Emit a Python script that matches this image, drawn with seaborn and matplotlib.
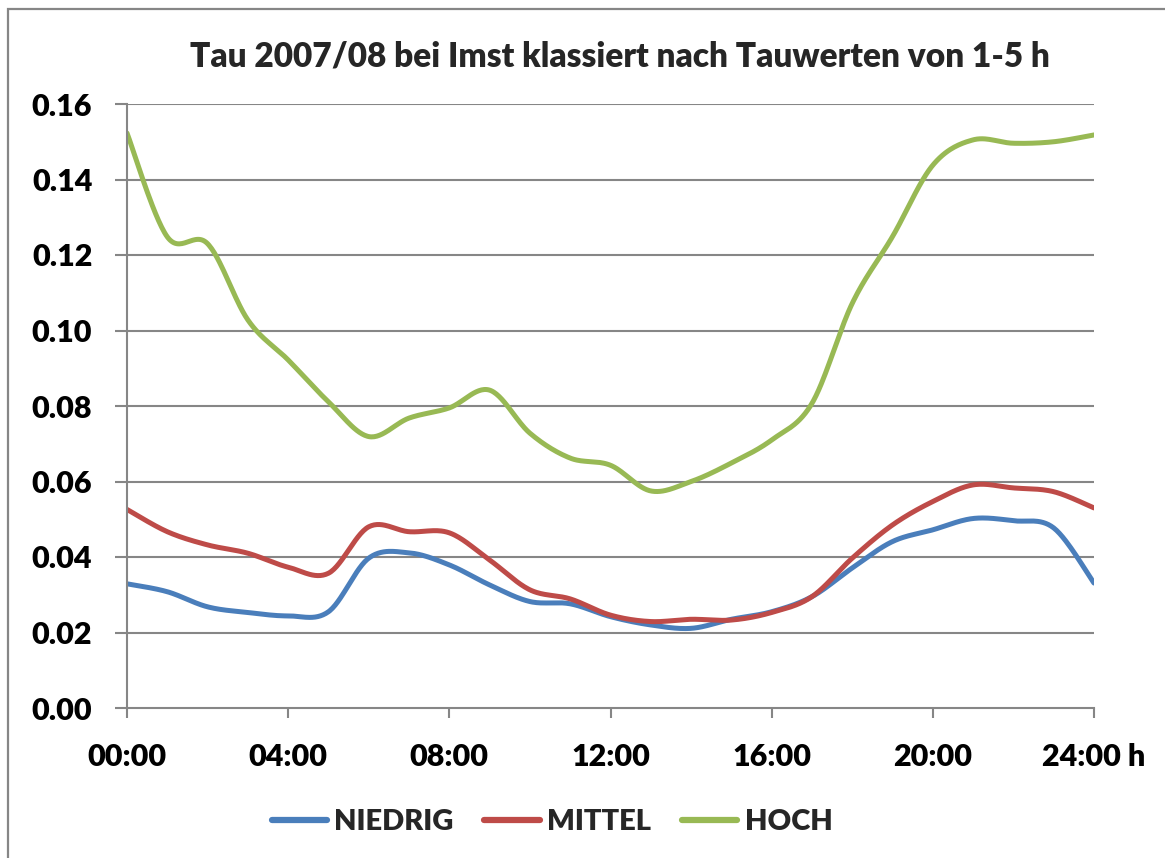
import numpy as np
import pandas as pd
import matplotlib
matplotlib.use("Agg")
import matplotlib.pyplot as plt
import seaborn as sns
from matplotlib.patches import Rectangle

hours = list(range(25))
niedrig = [0.0329, 0.0308, 0.0268, 0.0253, 0.0244, 0.0255, 0.0397, 0.0411, 0.0379, 0.0326,
           0.0282, 0.0276, 0.0242, 0.0220, 0.0211, 0.0235, 0.0255, 0.0295, 0.0371, 0.0441,
           0.0472, 0.0502, 0.0496, 0.0477, 0.0331]
mittel = [0.0526, 0.0467, 0.0432, 0.0410, 0.0373, 0.0357, 0.0480, 0.0467, 0.0464, 0.0392,
          0.0313, 0.0289, 0.0246, 0.0229, 0.0235, 0.0233, 0.0253, 0.0295, 0.0397, 0.0485,
          0.0547, 0.0591, 0.0583, 0.0573, 0.0530]
hoch = [0.1523, 0.1248, 0.1230, 0.1028, 0.0922, 0.0811, 0.0719, 0.0768, 0.0795, 0.0842,
        0.0728, 0.0662, 0.0643, 0.0575, 0.0600, 0.0649, 0.0710, 0.0807, 0.1072, 0.1249,
        0.1438, 0.1505, 0.1496, 0.1500, 0.1518]
series_names = ["NIEDRIG", "MITTEL", "HOCH"]
colors = ["#4A7EBB", "#BE4B48", "#98B954"]
x_ticks = [0, 4, 8, 12, 16, 20, 24]
x_tick_labels = ["00:00", "04:00", "08:00", "12:00", "16:00", "20:00", "24:00 h"]
y_ticks = [0.00, 0.02, 0.04, 0.06, 0.08, 0.10, 0.12, 0.14, 0.16]
title = "Tau 2007/08 bei Imst klassiert nach Tauwerten von 1-5 h"


def smooth(x, y, n=30):
    # Excel-like smoothed line: cubic Bezier through points (Catmull-Rom control points)
    x = np.asarray(x, float); y = np.asarray(y, float)
    P = np.column_stack([x, y])
    out = []
    for i in range(len(P) - 1):
        p0 = P[i - 1] if i > 0 else P[i]
        p1, p2 = P[i], P[i + 1]
        p3 = P[i + 2] if i + 2 < len(P) else P[i + 1]
        c1 = p1 + (p2 - p0) / 6.0
        c2 = p2 - (p3 - p1) / 6.0
        t = np.linspace(0, 1, n, endpoint=(i == len(P) - 2))[:, None]
        seg = ((1 - t) ** 3) * p1 + 3 * ((1 - t) ** 2) * t * c1 + 3 * (1 - t) * t ** 2 * c2 + t ** 3 * p2
        out.append(seg)
    return np.vstack(out)


frames = []
for name, vals in zip(series_names, [niedrig, mittel, hoch]):
    s = smooth(hours, vals)
    frames.append(pd.DataFrame({"h": s[:, 0], "v": s[:, 1], "series": name, "order": np.arange(len(s))}))
df = pd.concat(frames, ignore_index=True)

sns.set_theme(style="white")
plt.rcParams["font.family"] = ["Lato", "DejaVu Sans"]
plt.rcParams["font.weight"] = "bold"

W, H = 1165, 858
fig = plt.figure(figsize=(W / 100, H / 100), dpi=100)
ax = fig.add_axes([127 / W, 1 - 708 / H, (1094 - 127) / W, (708 - 104) / H])

grid_c = "#868686"
for yv in y_ticks[1:]:
    ax.axhline(yv, color=grid_c, lw=1.5, zorder=0)

sns.lineplot(data=df, x="h", y="v", hue="series", hue_order=series_names, palette=colors,
             sort=False, estimator=None, units="series", lw=3.6, ax=ax, legend=True)

ax.set_xlim(0, 24)
ax.set_ylim(0, 0.16)
ax.set_xticks(x_ticks)
ax.set_xticklabels(x_tick_labels)
ax.set_yticks(y_ticks)
ax.set_yticklabels([f"{v:.2f}" for v in y_ticks])
ax.set_xlabel("")
ax.set_ylabel("")
for side in ["top", "right"]:
    ax.spines[side].set_visible(False)
for side in ["left", "bottom"]:
    ax.spines[side].set_color(grid_c)
    ax.spines[side].set_linewidth(1.5)
ax.tick_params(axis="y", direction="out", length=9, width=1.5, color=grid_c, pad=16,
               labelsize=22, left=True)
ax.tick_params(axis="x", direction="out", length=7, width=1.5, color=grid_c, pad=18,
               labelsize=22, bottom=True)
for lab in ax.get_xticklabels() + ax.get_yticklabels():
    lab.set_fontweight("heavy")
    lab.set_color("black")

ax.legend_.remove()
handles, labels = ax.get_legend_handles_labels()
leg = fig.legend(handles, labels, loc="center", bbox_to_anchor=(552 / W, 1 - 822 / H), ncol=3,
                 frameon=False, handlelength=1.9, handletextpad=0.25,
                 columnspacing=1.05, prop={"weight": "heavy", "size": 21})
for l in leg.get_lines():
    l.set_linewidth(4.5)
    l.set_solid_capstyle("round")

fig.text(620 / W, 1 - 56 / H, title, ha="center", va="center", fontsize=24, fontweight="heavy")

fig.patches.append(Rectangle((8 / W, -0.1), 1.2, 1.1 - 9 / H, transform=fig.transFigure,
                             fill=False, edgecolor=grid_c, lw=1.6))

fig.savefig("out.png", dpi=100)
